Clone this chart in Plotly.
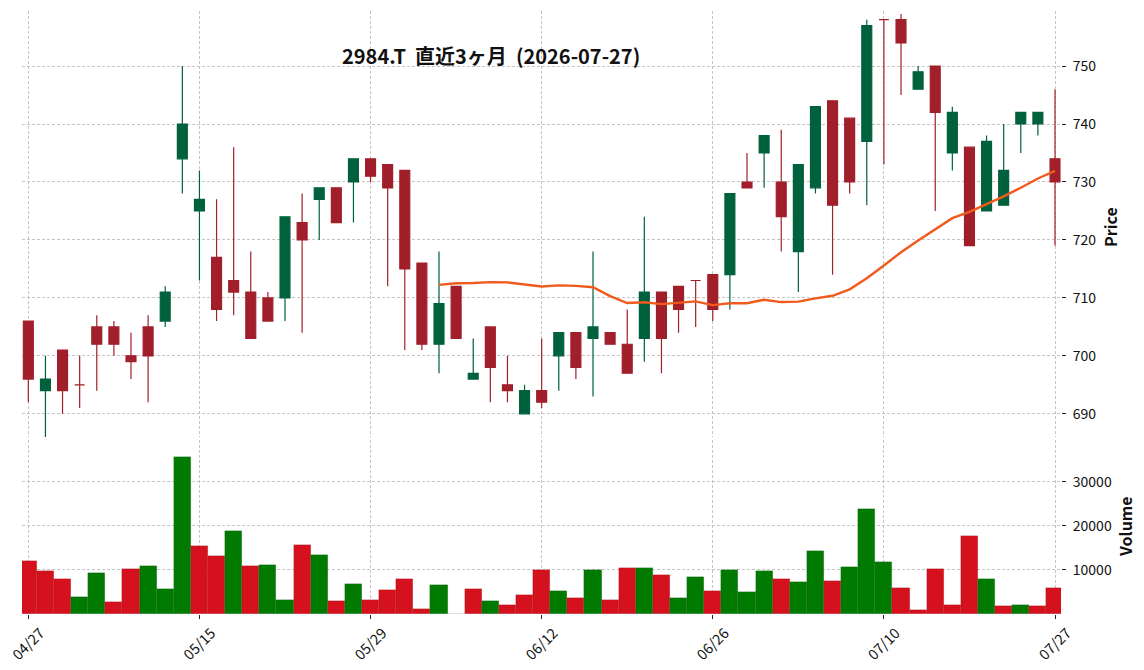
import plotly.graph_objects as go
import pandas as pd

dates = ["04/27", "04/28", "04/30", "05/01", "05/07", "05/08", "05/11", "05/12", "05/13", "05/14",
         "05/15", "05/18", "05/19", "05/20", "05/21", "05/22", "05/25", "05/26", "05/27", "05/28",
         "05/29", "06/01", "06/02", "06/03", "06/04", "06/05", "06/08", "06/09", "06/10", "06/11",
         "06/12", "06/15", "06/16", "06/17", "06/18", "06/19", "06/22", "06/23", "06/24", "06/25",
         "06/26", "06/29", "06/30", "07/01", "07/02", "07/03", "07/06", "07/07", "07/08", "07/09",
         "07/10", "07/13", "07/14", "07/15", "07/16", "07/17", "07/21", "07/22", "07/23", "07/24",
         "07/27"]

opens = [706, 694, 701, 695, 705, 705, 700, 705, 706, 734,
         725, 717, 713, 711, 710, 710, 723, 727, 729, 730,
         734, 733, 732, 716, 702, 712, 696, 705, 695, 690,
         694, 700, 704, 703, 704, 702, 703, 711, 712, 713,
         714, 714, 730, 735, 730, 718, 729, 744, 741, 737,
         758, 758, 746, 750, 735, 736, 725, 726, 740, 740,
         734]
highs = [706, 700, 701, 700, 707, 706, 704, 707, 712, 750,
         732, 727, 736, 718, 711, 724, 728, 729, 729, 734,
         734, 733, 732, 716, 718, 712, 703, 705, 700, 695,
         703, 704, 704, 718, 704, 708, 724, 711, 712, 713,
         714, 728, 735, 738, 739, 733, 743, 744, 741, 758,
         758, 759, 750, 750, 743, 736, 738, 740, 742, 742,
         746]
lows = [692, 686, 690, 691, 694, 700, 696, 692, 705, 728,
        713, 706, 707, 703, 706, 706, 704, 720, 723, 723,
        730, 712, 701, 701, 697, 703, 696, 692, 692, 690,
        691, 694, 696, 693, 702, 697, 699, 697, 704, 705,
        706, 708, 729, 729, 718, 711, 728, 714, 728, 726,
        733, 745, 746, 725, 732, 719, 725, 726, 735, 738,
        719]
closes = [696, 696, 694, 695, 702, 702, 699, 700, 711, 740,
          727, 708, 711, 703, 706, 724, 720, 729, 723, 734,
          731, 729, 715, 702, 709, 703, 697, 698, 694, 694,
          692, 704, 698, 705, 702, 697, 711, 703, 708, 713,
          708, 728, 729, 738, 724, 733, 743, 726, 730, 757,
          758, 754, 749, 742, 742, 719, 737, 732, 742, 742,
          730]
volumes = [12100, 9850, 8030, 3940, 9390, 2800, 10300, 10980, 5760, 35700,
           15530, 13260, 18940, 10980, 11210, 3260, 15760, 13480, 3030, 6890,
           3260, 5530, 8030, 1210, 6670, 0, 5760, 3030, 2120, 4390,
           10080, 5300, 3710, 10080, 3260, 10380, 10530, 8940, 3710, 8480,
           5300, 10080, 5080, 9850, 8030, 7350, 14390, 7580, 10760, 23940,
           11890, 5980, 980, 10300, 2120, 17800, 8030, 1890, 2120, 1890,
           5980]

tick_idx = [0, 10, 20, 30, 40, 50, 60]
price_ticks = [690, 700, 710, 720, 730, 740, 750]
vol_ticks = [10000, 20000, 30000]
title_text = "2984.T\u00a0 直近3ヶ月\u00a0 (2026-07-27)"

UP = "#00613d"
DOWN = "#a11f2a"
VUP = "#007a00"
VDOWN = "#d4111c"
MA_COLOR = "#f05a1c"
GRID = "#c4c4c4"
FONT = "Noto Sans CJK JP"

x = list(range(len(dates)))
ma25 = pd.Series(closes).rolling(25).mean()

up_idx = [i for i in x if closes[i] > opens[i]]
dn_idx = [i for i in x if closes[i] <= opens[i]]


def sub(arr, idx):
    return [arr[i] for i in idx]


vcolors = [VDOWN] + [VUP if closes[i] > closes[i - 1] else VDOWN for i in x[1:]]

fig = go.Figure()
for idx, col in ((up_idx, UP), (dn_idx, DOWN)):
    fig.add_trace(go.Candlestick(
        x=idx, open=sub(opens, idx), high=sub(highs, idx), low=sub(lows, idx), close=sub(closes, idx),
        increasing=dict(line=dict(color=col, width=1.2), fillcolor=col),
        decreasing=dict(line=dict(color=col, width=1.2), fillcolor=col),
        whiskerwidth=0, xaxis="x", yaxis="y", showlegend=False, hoverinfo="skip"))

fig.add_trace(go.Scatter(x=x, y=ma25, mode="lines", line=dict(color=MA_COLOR, width=2.4),
                         xaxis="x", yaxis="y", showlegend=False, hoverinfo="skip"))

fig.add_trace(go.Bar(x=x, y=volumes, width=1.0, marker=dict(color=vcolors, line=dict(width=0.5, color="rgba(0,0,0,0.18)")),
                     xaxis="x2", yaxis="y2", showlegend=False, hoverinfo="skip"))

L, R, T, B = 22, 1061, 11, 614
H = B - T
price_bottom = (B - 437) / H
vol_top = (B - 440) / H

grid = dict(showgrid=True, gridcolor=GRID, gridwidth=0.8, griddash="3px,2px", zeroline=False,
            showline=False, automargin=False)

fig.update_layout(
    width=1144, height=670,
    margin=dict(l=L, r=1144 - R, t=T, b=670 - B, autoexpand=False),
    paper_bgcolor="white", plot_bgcolor="white",
    font=dict(family=FONT, color="#111111", size=13),
    boxgap=0.42, boxgroupgap=0,
    bargap=0,
    xaxis=dict(domain=[0, 1], anchor="y", range=[-0.37, 60.35], tickvals=tick_idx, showticklabels=False,
               ticks="", rangeslider=dict(visible=False), **grid),
    xaxis2=dict(domain=[0, 1], anchor="y2", matches="x", range=[-0.37, 60.35], tickvals=tick_idx,
                ticktext=[dates[i] for i in tick_idx], tickangle=-45, ticks="outside", ticklen=4,
                tickcolor="#222222", tickwidth=1, tickfont=dict(size=14.5, family=FONT),
                ticklabeloverflow="allow", ticklabelshift=12, ticklabelstandoff=0,
                rangeslider=dict(visible=False), **grid),
    yaxis=dict(domain=[price_bottom, 1], anchor="x", side="right", range=[686.0, 759.5],
               tickvals=price_ticks, ticks="outside", ticklen=4, tickcolor="#222222",
               ticklabelstandoff=4, tickfont=dict(size=14, family=FONT), **grid),
    yaxis2=dict(domain=[0, vol_top], anchor="x2", side="right", range=[0, 39500],
                tickvals=vol_ticks, tickformat="d", ticks="outside", ticklen=4, tickcolor="#222222",
                ticklabelstandoff=4, tickfont=dict(size=14, family=FONT), **grid),
    annotations=[
        dict(text="<b>" + title_text + "</b>", xref="paper", yref="paper",
             x=(491 - L) / (R - L), y=(B - 55) / H, xanchor="center", yanchor="middle",
             showarrow=False, font=dict(size=20, family=FONT, color="#111111")),
        dict(text="<b>Price</b>", xref="paper", yref="paper", x=(1110 - L) / (R - L),
             y=(B - 227) / H, xanchor="center", yanchor="middle", textangle=-90,
             showarrow=False, font=dict(size=16, family=FONT, color="#111111")),
        dict(text="<b>Volume</b>", xref="paper", yref="paper", x=(1125 - L) / (R - L),
             y=(B - 527) / H, xanchor="center", yanchor="middle", textangle=-90,
             showarrow=False, font=dict(size=16, family=FONT, color="#111111")),
    ],
)

fig.write_html("out.html")
